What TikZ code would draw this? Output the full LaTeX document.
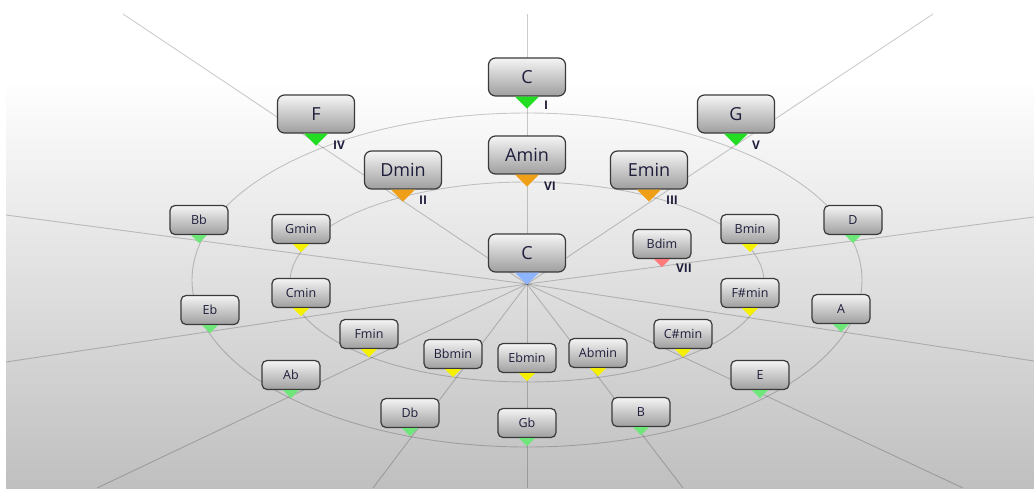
\documentclass[tikz,border=0pt]{standalone}
\usepackage{fontspec}
\setmainfont{Open Sans}
\definecolor{txt}{HTML}{1E1E3C}
\definecolor{boxline}{HTML}{3A3A3A}
\definecolor{pgreen}{HTML}{22DD22}
\definecolor{lgreen}{HTML}{6EE67A}
\definecolor{morange}{HTML}{F0A018}
\definecolor{myellow}{HTML}{F5F000}
\definecolor{mblue}{HTML}{8CB4FF}
\definecolor{mpink}{HTML}{FF7A7A}
\begin{document}
\begin{tikzpicture}[x=1pt,y=-1pt,
  ray/.style={draw=black,draw opacity=0.2,line width=0.9pt},
  boxbase/.style={draw=boxline,line width=1.2pt,top color=black!4,bottom color=black!38,inner sep=0pt,text=txt},
  bigbox/.style={boxbase,rounded corners=7pt,minimum width=77pt,minimum height=38pt,font=\fontsize{18}{18}\selectfont},
  smallbox/.style={boxbase,rounded corners=5pt,minimum width=58pt,minimum height=29pt,font=\fontsize{12.5}{12.5}\selectfont},
  deg/.style={font=\bfseries\fontsize{12}{12}\selectfont,text=txt,inner sep=0pt}]
\useasboundingbox (0,0) rectangle (1034,488);
% background
\fill[white] (0,0) rectangle (1034,488);
\shade[top color=white,bottom color=black!25] (6,80) rectangle (1034,488);
% centre and ray ends
\coordinate (o) at (527,284);
\coordinate (eC) at (527,14);
\coordinate (eG) at (933,14);
\coordinate (eF) at (123,14);
\coordinate (eD) at (1034,217);
\coordinate (eBb) at (6,215);
\coordinate (eA) at (1034,361);
\coordinate (eEb) at (6,362);
\coordinate (eE) at (963,488);
\coordinate (eAb) at (97,488);
\coordinate (eB) at (683,488);
\coordinate (eDb) at (373,488);
\coordinate (eGb) at (527,488);
\foreach \e in {eC,eG,eF,eD,eBb,eA,eEb,eE,eAb,eB,eDb,eGb}
  \draw[ray] (o) -- (\e);
% rings
\draw[ray] (527,280) ellipse [x radius=335pt,y radius=167pt];
\draw[ray] (527,282) ellipse [x radius=237pt,y radius=100pt];
% big chords
\foreach \n/\x/\y/\t/\c in {Ct/527/77/C/pgreen,F/316/114/F/pgreen,G/736/114/G/pgreen,
  Amin/527/155/Amin/morange,Dmin/403/170/Dmin/morange,Emin/649/170/Emin/morange,Cc/527/253/C/mblue}{
  \node[bigbox] (\n) at (\x,\y) {\t};
  \fill[\c] ([xshift=-12pt]\n.south) -- ([xshift=12pt]\n.south) -- ([yshift=-12pt]\n.south) -- cycle;
}
% small chords
\foreach \n/\x/\y/\t/\c in {Bb/199/220/Bb/lgreen,D/853/220/D/lgreen,Gmin/301/229/Gmin/myellow,
  Bmin/750/229/Bmin/myellow,Bdim/662/244/Bdim/mpink,Cmin/301/293/Cmin/myellow,
  Fsmin/750/293/F\#min/myellow,Eb/210/310/Eb/lgreen,A/841/309/A/lgreen,
  Fmin/369/334/Fmin/myellow,Csmin/683/334/C\#min/myellow,Bbmin/453/354/Bbmin/myellow,
  Ebmin/527/358/Ebmin/myellow,Abmin/598/353/Abmin/myellow,Ab/291/375/Ab/lgreen,
  E/760/375/E/lgreen,Db/410/413/Db/lgreen,B/641/412/B/lgreen,Gb/527/423/Gb/lgreen}{
  \node[smallbox] (\n) at (\x,\y) {\t};
  \fill[\c] ([xshift=-8pt]\n.south) -- ([xshift=8pt]\n.south) -- ([yshift=-8pt]\n.south) -- cycle;
}
% degree labels
\node[deg] (dI) at (546,105) {I};
\node[deg] (dIV) at (339,145) {IV};
\node[deg] (dV) at (756,145) {V};
\node[deg] (dVI) at (550,186) {VI};
\node[deg] (dII) at (423,200) {II};
\node[deg] (dIII) at (672,200) {III};
\node[deg] (dVII) at (684,268) {VII};
\end{tikzpicture}
\end{document}
